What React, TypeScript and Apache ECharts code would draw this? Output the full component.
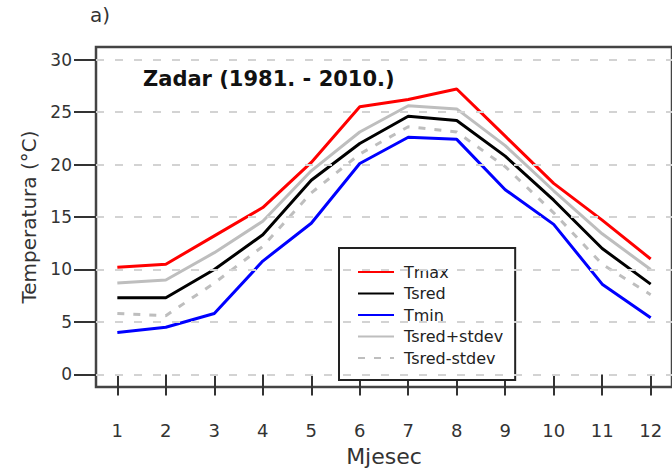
import React, { useEffect, useRef } from "react";
import * as echarts from "echarts";

const MONTHS = [1, 2, 3, 4, 5, 6, 7, 8, 9, 10, 11, 12];
const Y_TICKS = [0, 5, 10, 15, 20, 25, 30];
const TMAX = [10.2, 10.5, 13.2, 15.9, 20.2, 25.5, 26.2, 27.2, 22.7, 18.2, 14.7, 11.0];
const TSRED = [7.3, 7.3, 10.0, 13.3, 18.5, 22.0, 24.6, 24.2, 20.8, 16.6, 12.0, 8.6];
const TMIN = [4.0, 4.5, 5.8, 10.8, 14.4, 20.1, 22.6, 22.4, 17.6, 14.3, 8.6, 5.4];
const TPLUS = [8.7, 9.0, 11.6, 14.6, 19.4, 23.1, 25.6, 25.3, 21.8, 17.5, 13.4, 10.0];
const TMINUS = [5.8, 5.6, 8.7, 12.2, 17.3, 21.0, 23.6, 23.1, 19.8, 15.4, 10.5, 7.6];

const FONT = "DejaVu Sans";

const pairs = (vals: number[]) => MONTHS.map((m, i) => [m, vals[i]]);

export default function App() {
  const ref = useRef<HTMLDivElement>(null);
  useEffect(() => {
    if (!ref.current) return;
    const chart = echarts.init(ref.current, undefined, { renderer: "svg" });
    const lineSeries = (name: string, vals: number[], color: string, width: number, type: any = "solid") => ({
      name,
      type: "line",
      data: pairs(vals),
      showSymbol: false,
      symbol: "none",
      z: 3,
      lineStyle: { color, width, type },
      itemStyle: { color },
    });
    chart.setOption({
      animation: false,
      backgroundColor: "#ffffff",
      grid: {
        left: 96,
        top: 47,
        width: 589,
        height: 340,
        show: true,
        borderColor: "#444444",
        borderWidth: 2.5,
        backgroundColor: "transparent",
      },
      xAxis: {
        type: "value",
        min: 0.56,
        max: 12.44,
        name: "Mjesec",
        nameLocation: "middle",
        nameGap: 58,
        nameTextStyle: { fontFamily: FONT, fontSize: 22, color: "#333333" },
        axisLine: { show: false },
        splitLine: { show: false },
        axisTick: { show: true, customValues: MONTHS, length: 21, lineStyle: { color: "#333333", width: 2 } },
        axisLabel: { customValues: MONTHS, margin: 34, fontFamily: FONT, fontSize: 18, color: "#333333" },
      },
      yAxis: {
        type: "value",
        min: -1.2,
        max: 31.2,
        name: "Temperatura (°C)",
        nameLocation: "middle",
        nameGap: 56,
        nameTextStyle: { fontFamily: FONT, fontSize: 20, color: "#333333" },
        axisLine: { show: false },
        splitLine: { show: false },
        axisTick: { show: true, customValues: Y_TICKS, length: 22, lineStyle: { color: "#333333", width: 2 } },
        axisLabel: { customValues: Y_TICKS, margin: 24, fontFamily: FONT, fontSize: 17, color: "#333333" },
      },
      legend: {
        orient: "vertical",
        left: 339,
        top: 248,
        padding: [16, 12, 14, 18],
        backgroundColor: "#ffffff",
        borderColor: "#222222",
        borderWidth: 2,
        borderRadius: 0,
        itemWidth: 36,
        itemHeight: 14,
        itemGap: 5.5,
        itemStyle: { color: "transparent", borderColor: "transparent", borderWidth: 0, opacity: 0 },
        textStyle: { fontFamily: FONT, fontSize: 16, color: "#222222", lineHeight: 16, padding: [0, 0, 0, 5] },
        data: ["Tmax", "Tsred", "Tmin", "Tsred+stdev", "Tsred-stdev"],
      },
      graphic: [
        {
          type: "text",
          left: 90,
          top: 5,
          style: { text: "a)", fontFamily: FONT, fontSize: 20, fill: "#333333" },
        },
        {
          type: "text",
          left: 143,
          top: 68,
          z: 10,
          style: { text: "Zadar (1981. - 2010.)", fontFamily: FONT, fontSize: 21, fontWeight: "bold", fill: "#111111" },
        },
      ],
      series: [
        {
          name: "grid",
          type: "line",
          data: [],
          z: 1,
          silent: true,
          markLine: {
            silent: true,
            symbol: ["none", "none"],
            label: { show: false },
            lineStyle: { color: "#d3d3d3", width: 2, type: [8, 11] },
            data: Y_TICKS.map((v) => ({ yAxis: v })),
          },
        },
        lineSeries("Tsred+stdev", TPLUS, "#bebebe", 3),
        lineSeries("Tsred-stdev", TMINUS, "#bebebe", 3, [7, 9]),
        lineSeries("Tmin", TMIN, "#0000ff", 3),
        lineSeries("Tsred", TSRED, "#000000", 3),
        lineSeries("Tmax", TMAX, "#ff0000", 3),
      ],
    });
    return () => chart.dispose();
  }, []);
  return (
    <div
      ref={ref}
      style={{ position: "fixed", left: 0, top: 0, width: 672, height: 472, overflow: "hidden" }}
    />
  );
}
